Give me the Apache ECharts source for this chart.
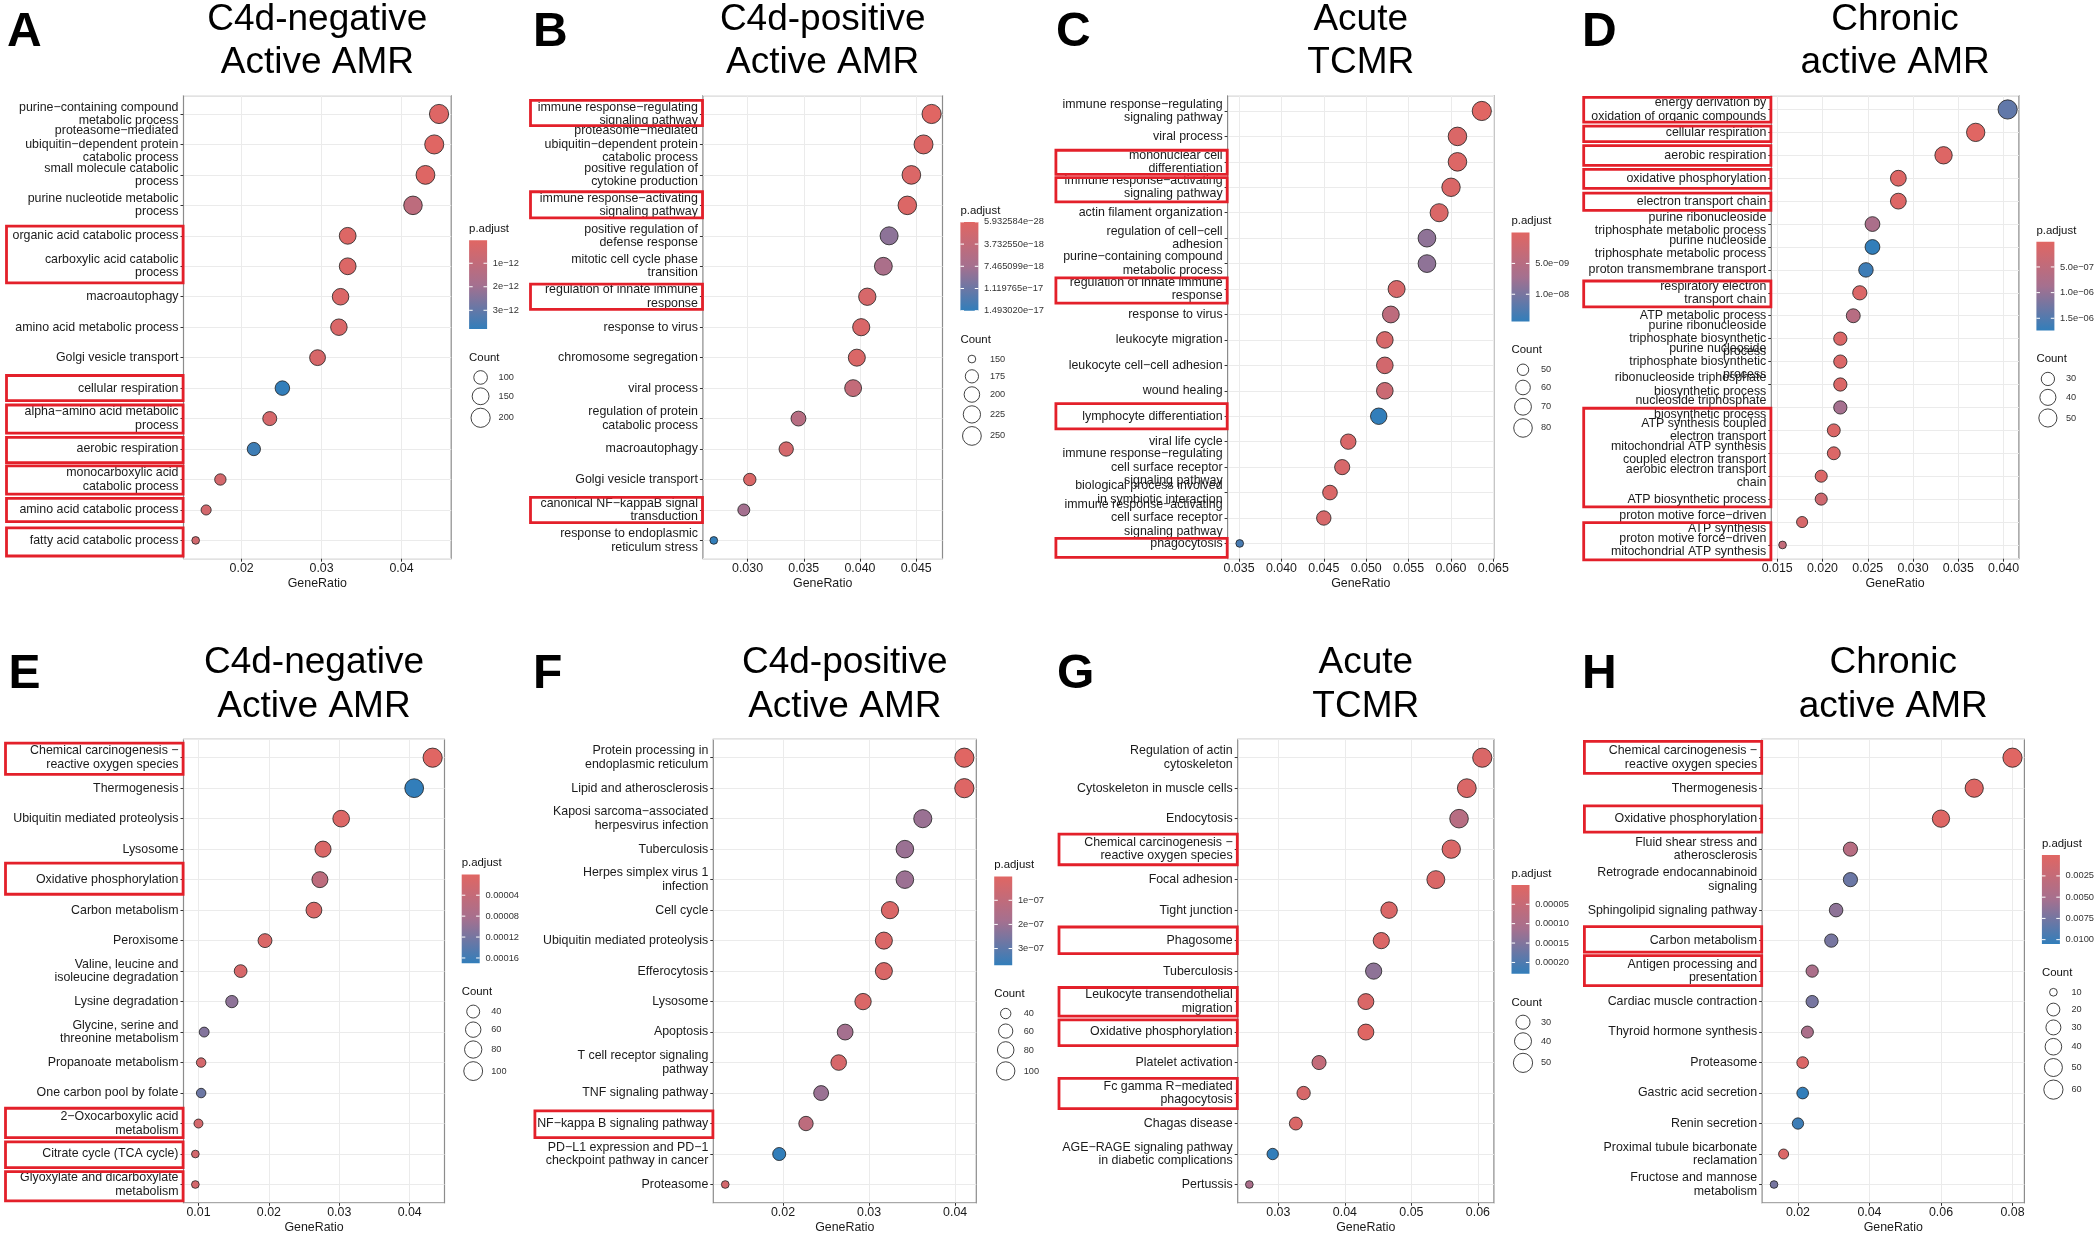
<!DOCTYPE html>
<html>
<head>
<meta charset="utf-8">
<title>GO / KEGG enrichment dot plots</title>
<script src="https://cdn.jsdelivr.net/npm/echarts@6/dist/echarts.min.js"></script>
<style>
  html, body { margin: 0; padding: 0; background: #fff; }
  #main { width: 2097px; height: 1236px; }
</style>
</head>
<body>
<div id="main"></div>
<script>
// ---- data ----
// A: GO, C4d-negative active AMR
const termsA = ['purine−containing compound\nmetabolic process', 'proteasome−mediated\nubiquitin−dependent protein\ncatabolic process',
  'small molecule catabolic\nprocess', 'purine nucleotide metabolic\nprocess', 'organic acid catabolic process',
  'carboxylic acid catabolic\nprocess', 'macroautophagy', 'amino acid metabolic process', 'Golgi vesicle transport',
  'cellular respiration', 'alpha−amino acid metabolic\nprocess', 'aerobic respiration', 'monocarboxylic acid\ncatabolic process',
  'amino acid catabolic process', 'fatty acid catabolic process'];
const ratioA = [0.0447, 0.0441, 0.0430, 0.04144, 0.03327, 0.03327, 0.03238, 0.03217, 0.0295, 0.0251, 0.02352, 0.02153, 0.01734, 0.01556, 0.01425];
const countA = [200, 197, 192, 185, 149, 149, 145, 144, 132, 112, 105, 96, 78, 70, 64];
const padjA = [1.0e-13, 2.5e-14, 8.0e-14, 1.15e-12, 1.2e-13, 1.5e-13, 2.0e-13, 2.2e-13, 3.0e-13, 3.8e-12, 3.5e-13, 3.6e-12, 4.0e-13, 4.5e-13, 5.0e-13];
const xTicksA = ['0.02', '0.03', '0.04'];
const padjTicksA = ['1e−12', '2e−12', '3e−12'];
const countBreaksA = [100, 150, 200];

// B: GO, C4d-positive active AMR
const termsB = ['immune response−regulating\nsignaling pathway', 'proteasome−mediated\nubiquitin−dependent protein\ncatabolic process',
  'positive regulation of\ncytokine production', 'immune response−activating\nsignaling pathway', 'positive regulation of\ndefense response',
  'mitotic cell cycle phase\ntransition', 'regulation of innate immune\nresponse', 'response to virus', 'chromosome segregation',
  'viral process', 'regulation of protein\ncatabolic process', 'macroautophagy', 'Golgi vesicle transport',
  'canonical NF−kappaB signal\ntransduction', 'response to endoplasmic\nreticulum stress'];
const ratioB = [0.04637, 0.04565, 0.04457, 0.04421, 0.04259, 0.04208, 0.04065, 0.04011, 0.03972, 0.03939, 0.03453, 0.03344, 0.0302, 0.02967, 0.027];
const countB = [258, 254, 248, 246, 237, 234, 226, 223, 221, 219, 192, 186, 168, 165, 150];
const padjB = [5.932584e-28, 4.5e-19, 6.0e-19, 4.5e-19, 9.0e-18, 6.7e-18, 1.2e-18, 9.0e-19, 7.5e-19, 3.7e-18, 5.2e-18, 1.5e-18, 7.5e-19, 7.5e-18, 1.493020e-17];
const xTicksB = ['0.030', '0.035', '0.040', '0.045'];
const padjTicksB = ['5.932584e−28', '3.732550e−18', '7.465099e−18', '1.119765e−17', '1.493020e−17'];
const countBreaksB = [150, 175, 200, 225, 250];

// C: GO, acute TCMR
const termsC = ['immune response−regulating\nsignaling pathway', 'viral process', 'mononuclear cell\ndifferentiation',
  'immune response−activating\nsignaling pathway', 'actin filament organization', 'regulation of cell−cell\nadhesion',
  'purine−containing compound\nmetabolic process', 'regulation of innate immune\nresponse', 'response to virus',
  'leukocyte migration', 'leukocyte cell−cell adhesion', 'wound healing', 'lymphocyte differentiation', 'viral life cycle',
  'immune response−regulating\ncell surface receptor\nsignaling pathway', 'biological process involved\nin symbiotic interaction',
  'immune response−activating\ncell surface receptor\nsignaling pathway', 'phagocytosis'];
const ratioC = [0.06364, 0.06077, 0.06077, 0.06001, 0.05861, 0.05717, 0.05717, 0.05359, 0.05291, 0.0522, 0.0522, 0.0522, 0.05148, 0.04789, 0.04717, 0.04573, 0.045, 0.03508];
const countC = [84, 80, 80, 79, 77, 75, 75, 71, 70, 69, 69, 69, 68, 63, 62, 60, 59, 46];
const padjC = [1.0e-11, 7.2e-10, 4.3e-10, 7.2e-10, 7.2e-10, 8.6e-9, 8.6e-9, 1.15e-9, 4.3e-9, 1.15e-9, 1.7e-9, 2.6e-9, 1.44e-8, 8.6e-10, 1.15e-9, 7.2e-10, 1.15e-9, 1.3e-8];
const xTicksC = ['0.035', '0.040', '0.045', '0.050', '0.055', '0.060', '0.065'];
const padjTicksC = ['5.0e−09', '1.0e−08'];
const countBreaksC = [50, 60, 70, 80];

// D: GO, chronic active AMR
const termsD = ['energy derivation by\noxidation of organic compounds', 'cellular respiration', 'aerobic respiration',
  'oxidative phosphorylation', 'electron transport chain', 'purine ribonucleoside\ntriphosphate metabolic process',
  'purine nucleoside\ntriphosphate metabolic process', 'proton transmembrane transport', 'respiratory electron\ntransport chain',
  'ATP metabolic process', 'purine ribonucleoside\ntriphosphate biosynthetic\nprocess',
  'purine nucleoside\ntriphosphate biosynthetic\nprocess', 'ribonucleoside triphosphate\nbiosynthetic process',
  'nucleoside triphosphate\nbiosynthetic process', 'ATP synthesis coupled\nelectron transport',
  'mitochondrial ATP synthesis\ncoupled electron transport', 'aerobic electron transport\nchain', 'ATP biosynthetic process',
  'proton motive force−driven\nATP synthesis', 'proton motive force−driven\nmitochondrial ATP synthesis'];
const ratioD = [0.04045, 0.03692, 0.03337, 0.02838, 0.02838, 0.02552, 0.02552, 0.0248, 0.02412, 0.0234, 0.02197, 0.02197, 0.02197, 0.02197, 0.02125, 0.02125, 0.01986, 0.01986, 0.01775, 0.01559];
const countD = [56, 51, 46, 39, 39, 35, 35, 34, 33, 32, 30, 30, 30, 30, 29, 29, 27, 27, 25, 22];
const padjD = [1.39e-6, 1.0e-8, 5.2e-8, 5.2e-8, 5.2e-8, 7.8e-7, 1.74e-6, 1.65e-6, 8.7e-8, 6.1e-7, 8.7e-8, 8.7e-8, 8.7e-8, 8.7e-7, 8.7e-8, 8.7e-8, 8.7e-8, 2.6e-7, 1.4e-7, 4.35e-7];
const xTicksD = ['0.015', '0.020', '0.025', '0.030', '0.035', '0.040'];
const padjTicksD = ['5.0e−07', '1.0e−06', '1.5e−06'];
const countBreaksD = [30, 40, 50];

// E: KEGG, C4d-negative active AMR
const termsE = ['Chemical carcinogenesis −\nreactive oxygen species', 'Thermogenesis', 'Ubiquitin mediated proteolysis', 'Lysosome',
  'Oxidative phosphorylation', 'Carbon metabolism', 'Peroxisome', 'Valine, leucine and\nisoleucine degradation',
  'Lysine degradation', 'Glycine, serine and\nthreonine metabolism', 'Propanoate metabolism', 'One carbon pool by folate',
  '2−Oxocarboxylic acid\nmetabolism', 'Citrate cycle (TCA cycle)', 'Glyoxylate and dicarboxylate\nmetabolism'];
const ratioE = [0.04326, 0.04064, 0.03027, 0.02769, 0.02725, 0.0264, 0.01945, 0.01599, 0.01474, 0.01081, 0.01038, 0.01038, 0.0100, 0.00956, 0.00956];
const countE = [105, 99, 73, 67, 66, 64, 47, 39, 36, 26, 25, 25, 24, 23, 23];
const padjE = [2.0e-7, 1.7e-4, 5.1e-6, 8.5e-6, 5.1e-5, 8.5e-6, 8.5e-6, 1.36e-5, 1.02e-4, 1.1e-4, 1.7e-5, 1.27e-4, 1.7e-5, 1.7e-5, 1.7e-5];
const xTicksE = ['0.01', '0.02', '0.03', '0.04'];
const padjTicksE = ['0.00004', '0.00008', '0.00012', '0.00016'];
const countBreaksE = [40, 60, 80, 100];

// F: KEGG, C4d-positive active AMR
const termsF = ['Protein processing in\nendoplasmic reticulum', 'Lipid and atherosclerosis', 'Kaposi sarcoma−associated\nherpesvirus infection',
  'Tuberculosis', 'Herpes simplex virus 1\ninfection', 'Cell cycle', 'Ubiquitin mediated proteolysis', 'Efferocytosis', 'Lysosome',
  'Apoptosis', 'T cell receptor signaling\npathway', 'TNF signaling pathway', 'NF−kappa B signaling pathway',
  'PD−L1 expression and PD−1\ncheckpoint pathway in cancer', 'Proteasome'];
const ratioF = [0.04107, 0.04107, 0.03624, 0.03416, 0.03416, 0.03243, 0.03172, 0.03172, 0.0293, 0.02722, 0.02647, 0.02443, 0.02267, 0.01956, 0.01329];
const countF = [110, 110, 97, 91, 91, 87, 85, 85, 78, 73, 71, 65, 61, 52, 36];
const padjF = [1.0e-9, 7.4e-9, 2.03e-7, 2.03e-7, 2.0e-7, 1.85e-8, 1.85e-8, 1.85e-8, 1.85e-8, 1.85e-7, 3.0e-8, 2.03e-7, 1.1e-7, 3.69e-7, 3.7e-8];
const xTicksF = ['0.02', '0.03', '0.04'];
const padjTicksF = ['1e−07', '2e−07', '3e−07'];
const countBreaksF = [40, 60, 80, 100];

// G: KEGG, acute TCMR
const termsG = ['Regulation of actin\ncytoskeleton', 'Cytoskeleton in muscle cells', 'Endocytosis',
  'Chemical carcinogenesis −\nreactive oxygen species', 'Focal adhesion', 'Tight junction', 'Phagosome', 'Tuberculosis',
  'Leukocyte transendothelial\nmigration', 'Oxidative phosphorylation', 'Platelet activation', 'Fc gamma R−mediated\nphagocytosis',
  'Chagas disease', 'AGE−RAGE signaling pathway\nin diabetic complications', 'Pertussis'];
const ratioG = [0.06066, 0.05834, 0.05717, 0.056, 0.05368, 0.04665, 0.04548, 0.04433, 0.04316, 0.04316, 0.03612, 0.0338, 0.03263, 0.02915, 0.02564];
const countG = [50, 48, 47, 46, 44, 38, 37, 37, 36, 36, 30, 28, 27, 24, 21];
const padjG = [1.15e-5, 1.15e-5, 8.0e-5, 1.15e-5, 1.15e-5, 1.15e-5, 1.15e-5, 1.37e-4, 1.15e-5, 1.0e-7, 5.7e-5, 1.8e-5, 1.15e-5, 2.29e-4, 1.03e-4];
const xTicksG = ['0.03', '0.04', '0.05', '0.06'];
const padjTicksG = ['0.00005', '0.00010', '0.00015', '0.00020'];
const countBreaksG = [30, 40, 50];

// H: KEGG, chronic active AMR
const termsH = ['Chemical carcinogenesis −\nreactive oxygen species', 'Thermogenesis', 'Oxidative phosphorylation',
  'Fluid shear stress and\natherosclerosis', 'Retrograde endocannabinoid\nsignaling', 'Sphingolipid signaling pathway',
  'Carbon metabolism', 'Antigen processing and\npresentation', 'Cardiac muscle contraction', 'Thyroid hormone synthesis',
  'Proteasome', 'Gastric acid secretion', 'Renin secretion', 'Proximal tubule bicarbonate\nreclamation', 'Fructose and mannose\nmetabolism'];
const ratioH = [0.08, 0.0693, 0.06, 0.03468, 0.03468, 0.03067, 0.02933, 0.02398, 0.02398, 0.02265, 0.02132, 0.02132, 0.02, 0.01599, 0.01331];
const countH = [60, 52, 45, 26, 26, 23, 22, 18, 18, 17, 16, 16, 15, 12, 10];
const padjH = [5.0e-5, 2.1e-4, 2.1e-4, 3.7e-3, 7.9e-3, 6.3e-3, 7.35e-3, 4.7e-3, 7.35e-3, 4.7e-3, 5.2e-4, 1.05e-2, 1.0e-2, 5.2e-4, 7.35e-3];
const xTicksH = ['0.02', '0.04', '0.06', '0.08'];
const padjTicksH = ['0.0025', '0.0050', '0.0075', '0.0100'];
const countBreaksH = [10, 20, 30, 40, 50, 60];

// ---- layout (pixels) ----
const FONT = '"Liberation Sans", Arial, Helvetica, sans-serif';
const RED = '#e06663', MID = '#a5708f', BLUE = '#327eba';
const BOX = '#e3202a';

// g: [left, right, top, bottom] of the panel; leg: [x, y] of the p.adjust legend title
// boxes: [fromRow, toRow, padTop, padBottom]
const panels = [
  { letter: 'A', title: ['C4d-negative', 'Active AMR'], terms: termsA, ratio: ratioA, count: countA, padj: padjA,
    xTicks: xTicksA, minor: 0.005, padjTicks: padjTicksA, countBreaks: countBreaksA,
    g: [183.5, 451.2, 95.7, 558.7], leg: [469.1, 228.9], letterX: 7, boxX: 5.1,
    boxes: [[5, 6, 11, 18], [10, 10, 14, 14], [11, 11, 15, 16], [12, 12, 13, 15], [13, 13, 15, 16], [14, 14, 13, 13], [15, 15, 14, 17]] },
  { letter: 'B', title: ['C4d-positive', 'Active AMR'], terms: termsB, ratio: ratioB, count: countB, padj: padjB,
    xTicks: xTicksB, minor: 0.0025, padjTicks: padjTicksB, countBreaks: countBreaksB,
    g: [702.9, 942.5, 95.7, 558.7], leg: [960.4, 210.5], letterX: 533, boxX: 529.1,
    boxes: [[1, 1, 15, 13], [4, 4, 15, 14], [7, 7, 14, 14], [14, 14, 14, 14]] },
  { letter: 'C', title: ['Acute', 'TCMR'], terms: termsC, ratio: ratioC, count: countC, padj: padjC,
    xTicks: xTicksC, minor: 0.0025, padjTicks: padjTicksC, countBreaks: countBreaksC,
    g: [1227.6, 1493.9, 95.7, 558.7], leg: [1511.5, 221.2], letterX: 1056, boxX: 1054.5,
    boxes: [[3, 3, 13, 14], [4, 4, 11, 16], [8, 8, 12.5, 15.5], [13, 13, 14, 14], [18, 18, 6.5, 15.3]] },
  { letter: 'D', title: ['Chronic', 'active AMR'], terms: termsD, ratio: ratioD, count: countD, padj: padjD,
    xTicks: xTicksD, minor: 0.0025, padjTicks: padjTicksD, countBreaks: countBreaksD,
    g: [1771.3, 2018.9, 95.7, 558.7], leg: [2036.4, 230.4], letterX: 1582, boxX: 1582.3,
    boxes: [[1, 1, 13.4, 14], [2, 2, 7.6, 10.7], [3, 3, 11, 11.5], [4, 4, 10.3, 11.5], [5, 5, 9.5, 10.7], [9, 9, 13.2, 15.5], [15, 18, 23.5, 9.1], [19, 20, 0.8, 16.4]] },
  { letter: 'E', title: ['C4d-negative', 'Active AMR'], terms: termsE, ratio: ratioE, count: countE, padj: padjE,
    xTicks: xTicksE, minor: 0.005, padjTicks: padjTicksE, countBreaks: countBreaksE,
    g: [183.5, 444.5, 739.4, 1202.8], leg: [461.7, 863], letterX: 8.5, boxX: 4.1,
    boxes: [[1, 1, 16, 18], [5, 5, 18, 16], [13, 13, 16.7, 15.4], [14, 14, 13.5, 15], [15, 15, 14.3, 17.8]] },
  { letter: 'F', title: ['C4d-positive', 'Active AMR'], terms: termsF, ratio: ratioF, count: countF, padj: padjF,
    xTicks: xTicksF, minor: 0.005, padjTicks: padjTicksF, countBreaks: countBreaksF,
    g: [713.3, 976.3, 739.4, 1202.8], leg: [994.2, 865], letterX: 533, boxX: 533.5,
    boxes: [[13, 13, 14, 15.5]] },
  { letter: 'G', title: ['Acute', 'TCMR'], terms: termsG, ratio: ratioG, count: countG, padj: padjG,
    xTicks: xTicksG, minor: 0.005, padjTicks: padjTicksG, countBreaks: countBreaksG,
    g: [1237.7, 1493.9, 739.4, 1202.8], leg: [1511.5, 873.5], letterX: 1057, boxX: 1057.6,
    boxes: [[4, 4, 16.5, 17], [7, 7, 15, 14.5], [9, 9, 15.5, 16], [10, 10, 13.6, 15], [12, 12, 16, 17]] },
  { letter: 'H', title: ['Chronic', 'active AMR'], terms: termsH, ratio: ratioH, count: countH, padj: padjH,
    xTicks: xTicksH, minor: 0.01, padjTicks: padjTicksH, countBreaks: countBreaksH,
    g: [1762.1, 2024.4, 739.4, 1202.8], leg: [2041.9, 843.7], letterX: 1582, boxX: 1583,
    boxes: [[1, 1, 17.7, 17], [3, 3, 14.2, 14.8], [7, 7, 15.3, 13], [8, 8, 16.8, 16]] }
];

// ggplot-like size scale: range c(3, 8), area palette
function dotSize(c, lo, hi) {
  const t = hi > lo ? Math.max(0, (c - lo) / (hi - lo)) : 1;
  return 2.3 * (3 + 5 * Math.sqrt(t)) + 0.8;
}

const chart = echarts.init(document.getElementById('main'));

const grid = [], xAxis = [], yAxis = [], series = [], visualMap = [];
panels.forEach(function (p, i) {
  const n = p.terms.length;
  const lo = Math.min.apply(null, p.ratio), hi = Math.max.apply(null, p.ratio);
  const pad = (hi - lo) * 0.05;
  p.xmin = lo - pad; p.xmax = hi + pad;
  p.cLo = Math.min.apply(null, p.count); p.cHi = Math.max.apply(null, p.count);
  p.pLo = Math.min.apply(null, p.padj); p.pHi = Math.max.apply(null, p.padj);
  const majors = p.xTicks.map(Number);
  // the two blank edge values keep echarts' min/max label check away from the real terms
  const yMin = 0.4, yMax = n + 0.6;
  const rows = [yMin].concat(p.terms.map(function (t, j) { return j + 1; }), [yMax]);

  grid.push({
    left: p.g[0], top: p.g[2], width: p.g[1] - p.g[0], height: p.g[3] - p.g[2],
    show: true, borderColor: '#8c8c8c', borderWidth: 1.2, backgroundColor: 'transparent',
    containLabel: false, outerBoundsMode: 'none'
  });
  xAxis.push({
    gridIndex: i, type: 'value', min: p.xmin, max: p.xmax,
    minInterval: p.minor, maxInterval: p.minor,
    axisLine: { show: false },
    axisTick: { show: true, length: 3, customValues: majors, lineStyle: { color: '#333', width: 1 } },
    axisLabel: {
      customValues: majors, margin: 4, fontSize: 12.4, color: '#1a1a1a', fontFamily: FONT,
      showMinLabel: true, showMaxLabel: true,
      formatter: function (v) {
        for (let k = 0; k < p.xTicks.length; k++) if (Math.abs(majors[k] - v) < 1e-9) return p.xTicks[k];
        return '';
      }
    },
    splitLine: { show: true, lineStyle: { color: '#ebebeb', width: 1 } },
    name: 'GeneRatio', nameLocation: 'middle', nameGap: 18.7, nameMoveOverlap: false,
    nameTextStyle: { fontSize: 12.4, color: '#1a1a1a', fontFamily: FONT }
  });
  yAxis.push({
    gridIndex: i, type: 'value', inverse: true, min: yMin, max: yMax,
    minInterval: 1, maxInterval: 1,
    axisLine: { show: false },
    axisTick: { show: true, length: 3, customValues: rows, lineStyle: { color: '#333', width: 1 } },
    axisLabel: {
      customValues: rows, margin: 5, fontSize: 12.4, lineHeight: 13.4, color: '#1a1a1a', fontFamily: FONT,
      showMinLabel: false, showMaxLabel: false, hideOverlap: false,
      formatter: function (v) {
        const r = Math.round(v);
        return Math.abs(r - v) < 1e-6 ? (p.terms[r - 1] || '') : '';
      }
    },
    splitLine: { show: true, lineStyle: { color: '#ebebeb', width: 1 } }
  });
  series.push({
    type: 'scatter', xAxisIndex: i, yAxisIndex: i, silent: true, z: 3,
    data: p.terms.map(function (t, j) { return [p.ratio[j], j + 1, p.count[j], p.padj[j]]; }),
    symbol: 'circle',
    symbolSize: function (val) { return dotSize(val[2], p.cLo, p.cHi); },
    itemStyle: { borderColor: '#1e1e1e', borderWidth: 0.8, opacity: 1 }
  });
  visualMap.push({
    type: 'continuous', show: false, seriesIndex: i, dimension: 3,
    min: p.pLo, max: p.pHi, inRange: { color: [RED, MID, BLUE] }
  });
});

chart.setOption({
  animation: false,
  backgroundColor: '#ffffff',
  textStyle: { fontFamily: FONT },
  grid: grid, xAxis: xAxis, yAxis: yAxis, series: series, visualMap: visualMap
});

// ---- annotations: letters, titles, red boxes, legends ----
function txt(x, y, s, font, align, color) {
  return {
    type: 'text', z: 50, silent: true,
    style: { x: x, y: y, text: s, font: font, fill: color || '#000',
      textAlign: align, align: align, textVerticalAlign: 'middle', verticalAlign: 'middle' }
  };
}

const els = [];
panels.forEach(function (p, i) {
  const topRow = i < 4;
  const cx = (p.g[0] + p.g[1]) / 2;
  els.push(txt(p.letterX, topRow ? 32.5 : 675, p.letter, 'bold 48px ' + FONT, 'left'));
  els.push(txt(cx, topRow ? 19.8 : 663, p.title[0], '37px ' + FONT, 'center'));
  els.push(txt(cx, topRow ? 62.6 : 706.6, p.title[1], '37px ' + FONT, 'center'));

  // red boxes around highlighted terms
  p.boxes.forEach(function (b) {
    const y1 = chart.convertToPixel({ gridIndex: i }, [p.xmin, b[0]])[1];
    const y2 = chart.convertToPixel({ gridIndex: i }, [p.xmin, b[1]])[1];
    const x0 = p.boxX + 1.4, x1 = p.g[0] + 1 - 1.4;
    const top = y1 - b[2] + 1.4, bot = y2 + b[3] - 1.4;
    els.push({ type: 'rect', z: 60, silent: true,
      shape: { x: x0, y: top, width: x1 - x0, height: bot - top },
      style: { fill: 'rgba(0,0,0,0)', stroke: BOX, lineWidth: 2.8 } });
  });

  // p.adjust colour bar
  const lx = p.leg[0], ly = p.leg[1];
  const bw = 18, bh = 88.8, bt = ly + 11.4;
  els.push(txt(lx, ly, 'p.adjust', '11.4px ' + FONT, 'left', '#111'));
  els.push({ type: 'rect', z: 50, silent: true, shape: { x: lx, y: bt, width: bw, height: bh },
    style: { fill: new echarts.graphic.LinearGradient(0, 0, 0, 1,
      [{ offset: 0, color: RED }, { offset: 0.5, color: MID }, { offset: 1, color: BLUE }]) } });
  p.padjTicks.forEach(function (s) {
    const v = Number(s.replace('−', '-'));
    const y = bt + (v - p.pLo) / (p.pHi - p.pLo) * bh;
    els.push({ type: 'line', z: 51, silent: true, shape: { x1: lx, y1: y, x2: lx + 3.6, y2: y }, style: { stroke: '#fff', lineWidth: 1 } });
    els.push({ type: 'line', z: 51, silent: true, shape: { x1: lx + bw - 3.6, y1: y, x2: lx + bw, y2: y }, style: { stroke: '#fff', lineWidth: 1 } });
    els.push(txt(lx + bw + 5.7, y, s, '9.3px ' + FONT, 'left', '#333'));
  });

  // Count size legend
  const ct = bt + bh + 28.7;
  els.push(txt(lx, ct, 'Count', '11.4px ' + FONT, 'left', '#111'));
  let y = ct + 11, prevH = 0;
  p.countBreaks.forEach(function (c, k) {
    const d = dotSize(c, p.cLo, p.cHi);
    const h = Math.max(17.3, d + 3.5);
    y += k === 0 ? h / 2 : (prevH + h) / 2;
    prevH = h;
    els.push({ type: 'circle', z: 50, silent: true, shape: { cx: lx + 11.5, cy: y, r: d / 2 },
      style: { fill: '#fff', stroke: '#111', lineWidth: 0.8 } });
    els.push(txt(lx + 29.5, y, String(c), '9.2px ' + FONT, 'left', '#333'));
  });
});

chart.setOption({ graphic: { elements: els } });
</script>
</body>
</html>
